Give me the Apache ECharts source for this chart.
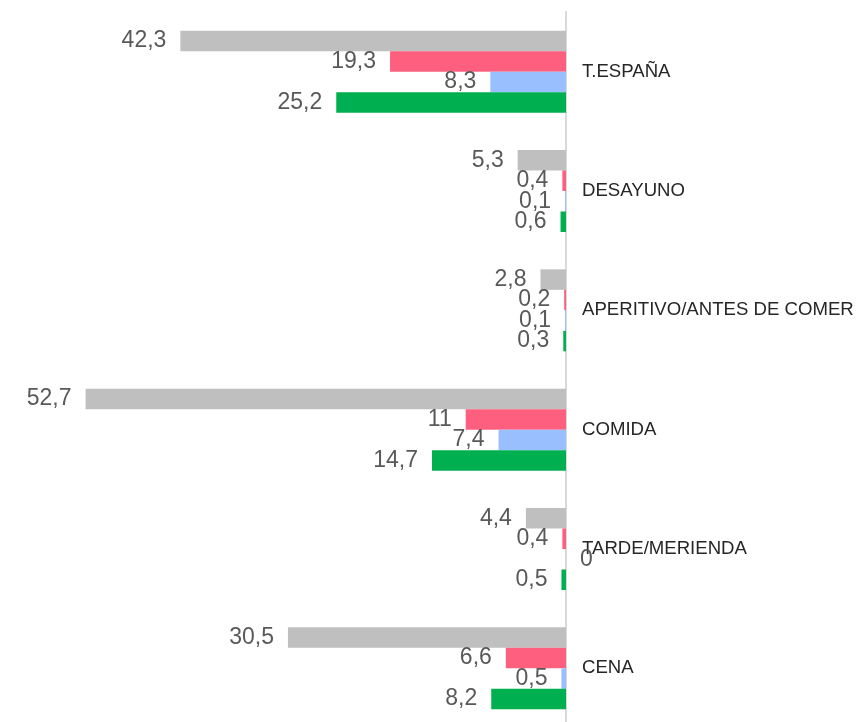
<!DOCTYPE html>
<html>
<head>
<meta charset="utf-8">
<script src="https://cdn.jsdelivr.net/npm/echarts@6/dist/echarts.min.js"></script>
<style>
  html, body { margin: 0; padding: 0; background: #fff; }
  #chart { width: 857px; height: 722px; }
</style>
</head>
<body>
<div id="chart"></div>
<script>
const categories = ['T.ESPAÑA', 'DESAYUNO', 'APERITIVO/ANTES DE COMER', 'COMIDA', 'TARDE/MERIENDA', 'CENA']
const serie1 = [42.3, 5.3, 2.8, 52.7, 4.4, 30.5]
const serie2 = [19.3, 0.4, 0.2, 11, 0.4, 6.6]
const serie3 = [8.3, 0.1, 0.1, 7.4, 0, 0.5]
const serie4 = [25.2, 0.6, 0.3, 14.7, 0.5, 8.2]
const colors = ['#bfbfbf', '#ff5f7e', '#99bfff', '#00b050']

const font = 'Liberation Sans, Arial, sans-serif'

// zero values get their label on the other side of the axis
const toData = arr => arr.map(v => v === 0 ? { value: v, label: { position: 'right' } } : v)

const makeSeries = (data, i) => ({
  type: 'bar',
  data: toData(data),
  barGap: '0%',
  barCategoryGap: '31.3%',
  itemStyle: { color: colors[i] },
  label: {
    show: true,
    position: 'left',
    distance: 14,
    color: '#595959',
    fontSize: 23,
    fontFamily: font,
    formatter: p => String(p.value).replace('.', ',')
  }
})

const chart = echarts.init(document.getElementById('chart'))
chart.setOption({
  animation: false,
  // last band runs a little past the bottom edge, like the original
  grid: { left: 19, width: 547, top: 12, height: 716, outerBoundsMode: 'none' },
  xAxis: {
    type: 'value',
    inverse: true,
    min: 0,
    max: 60,
    show: false
  },
  yAxis: {
    type: 'category',
    inverse: true,
    position: 'right',
    data: categories,
    axisLine: { show: true, lineStyle: { color: '#d9d9d9', width: 2 } },
    axisTick: { show: false },
    axisLabel: {
      margin: 16,
      color: '#262626',
      fontSize: 18.6,
      fontFamily: font
    }
  },
  series: [serie1, serie2, serie3, serie4].map(makeSeries)
})
</script>
</body>
</html>
